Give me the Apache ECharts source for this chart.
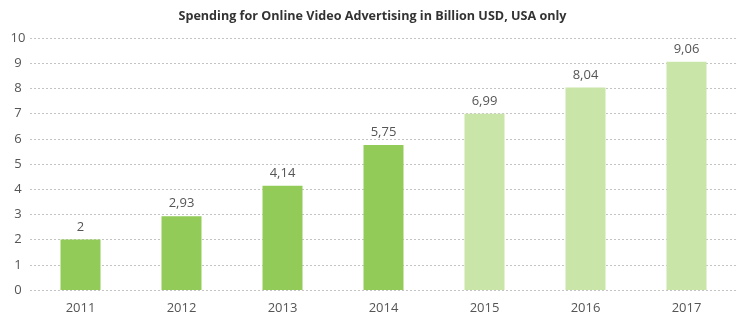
<!DOCTYPE html>
<html><head><meta charset="utf-8">
<script src="https://cdn.jsdelivr.net/npm/echarts@6/dist/echarts.min.js"></script>
<style>html,body{margin:0;padding:0;background:#fff}#c{width:745px;height:324px}</style>
</head><body><div id="c"></div>
<script>
const categories = ['2011','2012','2013','2014','2015','2016','2017'];
const values = [2, 2.93, 4.14, 5.75, 6.99, 8.04, 9.06];
const labels = ['2','2,93','4,14','5,75','6,99','8,04','9,06'];
const forecast = [false,false,false,false,true,true,true];
const yTicks = [0,1,2,3,4,5,6,7,8,9,10];

const chart = echarts.init(document.getElementById('c'));
chart.setOption({
  animation:false,
  title:{text:'Spending for Online Video Advertising in Billion USD, USA only',left:'center',top:5,
    textStyle:{fontFamily:'Open Sans',fontWeight:'bold',fontSize:12.6,color:'#333'}},
  grid:{left:30,right:8,top:38,bottom:34,containLabel:false},
  xAxis:{type:'category',data:categories,axisLine:{show:false},axisTick:{show:false},
    axisLabel:{color:'#555',fontFamily:'Open Sans',fontSize:13,margin:12}},
  yAxis:{type:'value',min:0,max:10,interval:1,
    axisLabel:{color:'#555',fontFamily:'Open Sans',fontSize:13,margin:12,align:'center',
      formatter:v=>yTicks.includes(v)?String(v):''},
    splitLine:{lineStyle:{color:'#c4c4c4',type:[2,2],width:1}}},
  series:[{type:'bar',barWidth:40,
    data:values.map((v,i)=>({value:v,itemStyle:{color:forecast[i]?'#C9E5A8':'#92CB57'},
      label:{formatter:labels[i]}})),
    label:{show:true,position:'top',distance:6,color:'#555',fontFamily:'Open Sans',fontSize:13}}]
});
</script></body></html>
